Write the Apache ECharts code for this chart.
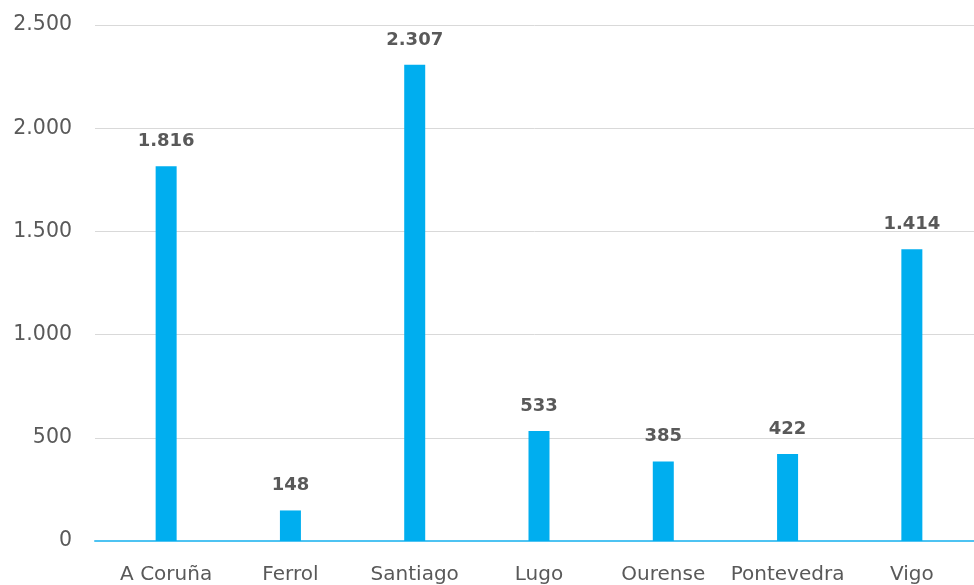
<!DOCTYPE html>
<html>
<head>
<meta charset="utf-8">
<script src="https://cdn.jsdelivr.net/npm/echarts@6/dist/echarts.min.js"></script>
<style>html,body{margin:0;padding:0;background:#fff;}#c{width:974px;height:585px;}</style>
</head>
<body>
<div id="c"></div>
<script>
const categories = ["A Coruña", "Ferrol", "Santiago", "Lugo", "Ourense", "Pontevedra", "Vigo"];
const values = [1816, 148, 2307, 533, 385, 422, 1414];
const yMin = 0, yMax = 2500, yStep = 500;

function fmt(v) {
  return String(v).replace(/\B(?=(\d{3})+(?!\d))/g, ".");
}

const chart = echarts.init(document.getElementById('c'), null, {renderer: 'canvas'});
const font = "DejaVu Sans";
chart.setOption({
  animation: false,
  backgroundColor: '#ffffff',
  grid: [
    {left: 95, top: 25, width: 886, height: 516, containLabel: false},
    {left: 104, top: 25, width: 877, height: 516, containLabel: false}
  ],
  xAxis: [
    {gridIndex: 0, type: 'category', data: [''], axisLine: {show: true, lineStyle: {color: '#4DC3F2', width: 2}},
     axisTick: {show: false}, axisLabel: {show: false}},
    {gridIndex: 1, type: 'category', data: categories, axisLine: {show: false}, axisTick: {show: false},
     axisLabel: {interval: 0, margin: 24, color: '#595959', fontSize: 20, fontFamily: font}}
  ],
  yAxis: [
    {gridIndex: 0, type: 'value', min: yMin, max: yMax, interval: yStep,
     axisLine: {show: false}, axisTick: {show: false},
     axisLabel: {margin: 23, color: '#595959', fontSize: 20.5, fontFamily: font, formatter: fmt},
     splitLine: {show: true, lineStyle: {color: '#D9D9D9', width: 1}}},
    {gridIndex: 1, type: 'value', min: yMin, max: yMax, interval: yStep, show: false,
     splitLine: {show: false}}
  ],
  series: [{
    type: 'bar', xAxisIndex: 1, yAxisIndex: 1, data: values, barWidth: 21,
    itemStyle: {color: '#00AEEF'},
    label: {show: true, position: 'top', distance: 16, color: '#595959', fontSize: 18,
            fontWeight: 'bold', fontFamily: font, formatter: p => fmt(p.value)}
  }]
});
</script>
</body>
</html>
